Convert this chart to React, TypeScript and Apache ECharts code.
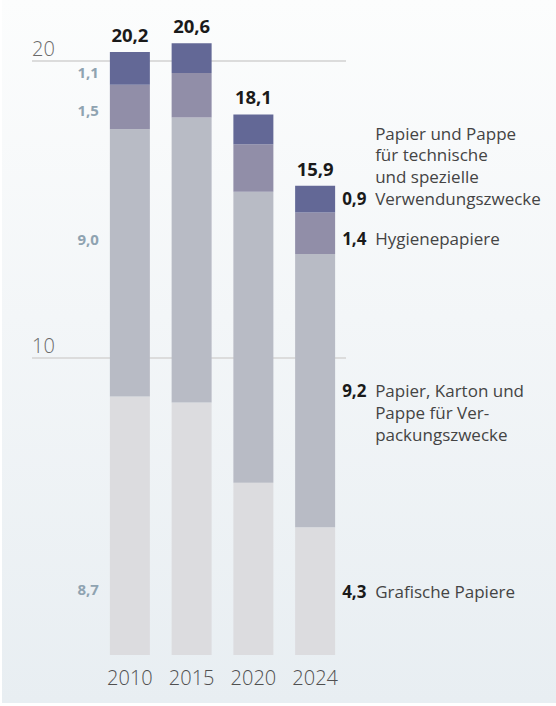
import React, { useEffect, useRef } from 'react';
import * as echarts from 'echarts';

const years = ['2010', '2015', '2020', '2024'];
const grafische = [8.7, 8.5, 5.8, 4.3];
const verpackung = [9.0, 9.6, 9.8, 9.2];
const hygiene = [1.5, 1.5, 1.6, 1.4];
const technisch = [1.1, 1.0, 1.0, 0.9];
const totals = [20.2, 20.6, 18.1, 15.9];
const yLabelTicks = [10, 20];

const nameGrafische = ['Grafische Papiere'];
const nameVerpackung = ['Papier, Karton und', 'Pappe für Ver-', 'packungszwecke'];
const nameHygiene = ['Hygienepapiere'];
const nameTechnisch = ['Papier und Pappe', 'für technische', 'und spezielle', 'Verwendungszwecke'];

const FONT = '"Open Sans", "Noto Sans", sans-serif';
const LH = 21.7;
const FS = 17;
const VALUE_W = 27;
const GAP = 6;

const fmt = (v: number) => v.toFixed(1).replace('.', ',');

function rightLabelText(value: number, lines: string[], valueLine: number) {
  return lines
    .map((l, i) => (i === valueLine ? `{v|${fmt(value)}}{n|${l}}` : `{m|${l}}`))
    .join('\n');
}

export default function App() {
  const ref = useRef<HTMLDivElement>(null);

  useEffect(() => {
    if (!ref.current) return;
    const chart = echarts.init(ref.current, undefined, { renderer: 'svg' });

    const defs = [
      { name: 'Grafische Papiere', data: grafische, color: '#dcdcdf', lines: nameGrafische, valueLine: 0, leftDy: 63, rightExtra: 0 },
      { name: 'Verpackung', data: verpackung, color: '#b8bbc5', lines: nameVerpackung, valueLine: 0, leftDy: -24, rightExtra: 0 },
      { name: 'Hygienepapiere', data: hygiene, color: '#918ea8', lines: nameHygiene, valueLine: 0, leftDy: 2.5, rightExtra: 5 },
      { name: 'Technisch', data: technisch, color: '#636896', lines: nameTechnisch, valueLine: 3, leftDy: 4, rightExtra: -1 },
    ];

    const last = years.length - 1;

    const barSeries = defs.map((d) => ({
      type: 'bar',
      name: d.name,
      stack: 'total',
      xAxisIndex: 0,
      yAxisIndex: 0,
      barWidth: 40,
      itemStyle: { color: d.color },
      z: 3,
      data: d.data.map((v, i) => {
        const item: any = { value: v };
        if (i === 0) {
          item.label = {
            show: true,
            position: 'left',
            distance: 11,
            offset: [0, d.leftDy],
            formatter: () => fmt(v),
            color: '#8fa3b1',
            fontWeight: 'bold',
            fontSize: 15,
            fontFamily: FONT,
          };
        }
        if (i === last) {
          const n = d.lines.length;
          const dy = -(d.valueLine - (n - 1) / 2) * LH + d.rightExtra;
          const txt = rightLabelText(v, d.lines, d.valueLine);
          item.label = {
            show: true,
            position: 'right',
            distance: 7,
            offset: [0, dy],
            formatter: () => txt,
            lineHeight: LH,
            fontFamily: FONT,
            fontSize: FS,
            align: 'left',
            rich: {
              v: { fontFamily: FONT, fontSize: FS, fontWeight: 'bold', color: '#1a1a1a', lineHeight: LH, width: VALUE_W },
              n: { fontFamily: FONT, fontSize: FS, color: '#444444', lineHeight: LH, padding: [0, 0, 0, GAP] },
              m: { fontFamily: FONT, fontSize: FS, color: '#444444', lineHeight: LH, padding: [0, 0, 0, VALUE_W + GAP] },
            },
          };
        }
        return item;
      }),
    }));

    const totalSeries = {
      type: 'bar',
      name: 'Summe',
      stack: 'total',
      xAxisIndex: 0,
      yAxisIndex: 0,
      barWidth: 40,
      z: 4,
      itemStyle: { color: 'rgba(0,0,0,0)' },
      data: totals.map((t) => ({
        value: 0,
        label: {
          show: true,
          position: 'top',
          distance: 8,
          formatter: () => fmt(t),
          color: '#1a1a1a',
          fontWeight: 'bold',
          fontSize: 18.5,
          fontFamily: FONT,
        },
      })),
    };

    chart.setOption({
      animation: false,
      backgroundColor: 'transparent',
      grid: [
        { left: 99, right: 210, top: 1.6, bottom: 51, containLabel: false },
        { left: 32, right: 210, top: 1.6, bottom: 51, containLabel: false },
      ],
      xAxis: [
        {
          type: 'category',
          gridIndex: 0,
          data: years,
          axisLine: { show: false },
          axisTick: { show: false },
          axisLabel: { color: '#505050', fontSize: 20, fontFamily: FONT, fontWeight: 300, margin: 12 },
        },
        {
          type: 'category',
          gridIndex: 1,
          data: [''],
          show: false,
        },
      ],
      yAxis: [
        {
          type: 'value',
          gridIndex: 0,
          min: 0,
          max: 22,
          interval: 10,
          show: false,
          splitLine: { show: false },
        },
        {
          type: 'value',
          gridIndex: 1,
          min: 0,
          max: 22,
          interval: 10,
          axisLine: { show: false },
          axisTick: { show: false },
          axisLabel: {
            inside: true,
            margin: 0,
            verticalAlign: 'bottom',
            padding: [0, 0, 3, 0],
            color: '#6a6a6a',
            fontSize: 20,
            fontWeight: 300,
            fontFamily: FONT,
            formatter: (v: number) => (yLabelTicks.includes(v) ? String(v) : ''),
          },
          splitLine: {
            show: true,
            showMinLine: false,
            showMaxLine: false,
            lineStyle: { color: '#dcdcdc', width: 2 },
          },
        },
      ],
      series: [...barSeries, totalSeries],
    });

    return () => chart.dispose();
  }, []);

  return (
    <div style={{ position: 'absolute', left: 0, top: 0, width: 556, height: 706, background: '#ffffff' }}>
      <div
        style={{
          position: 'absolute',
          left: 2,
          top: 0,
          width: 554,
          height: 703,
          background: 'linear-gradient(to bottom, #fcfdfd 0%, #f3f6f8 45%, #e8eef2 100%)',
        }}
      />
      <div ref={ref} style={{ position: 'absolute', left: 0, top: 0, width: 556, height: 706 }} />
    </div>
  );
}
